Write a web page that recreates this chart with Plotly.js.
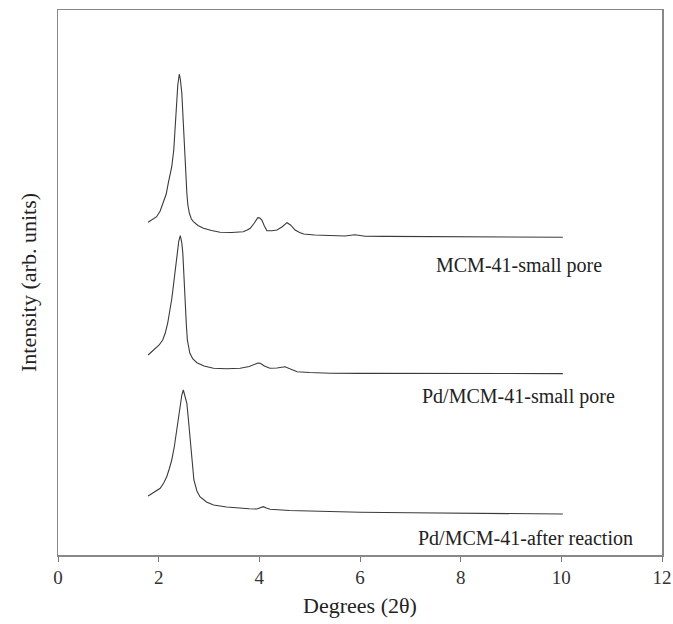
<!DOCTYPE html>
<html>
<head>
<meta charset="utf-8">
<script src="https://cdn.plot.ly/plotly-3.0.1.min.js"></script>
<style>html,body{margin:0;padding:0;background:#fff;}</style>
</head>
<body>
<div id="chart" style="width:673px;height:624px;"></div>
<script>
// Degrees (2θ) and offset intensities (arb. units)
var xSmallPore = [1.79,1.88,1.96,2.03,2.09,2.15,2.19,2.23,2.26,2.30,2.33,2.36,2.38,2.41,2.43,2.46,2.48,2.50,2.53,2.56,2.58,2.61,2.65,2.69,2.78,2.89,3.05,3.22,3.45,3.68,3.76,3.82,3.90,3.97,4.01,4.05,4.10,4.15,4.25,4.35,4.45,4.55,4.62,4.71,4.80,4.88,5.10,5.41,5.70,5.90,6.10,6.50,7.00,7.50,8.00,8.50,9.00,9.50,10.03];
var ySmallPore = [332.7,335.5,338.3,344,351.7,361,371.7,380,388.3,405,428.3,455,470,481,476,461.7,440,411.7,385,361.7,350,341.7,336,333.3,329.5,326.7,324.5,322.7,322.5,323.3,325,326.7,332,337.3,337,335,329,324.3,324.2,325,328,332.3,330,325,322.5,321,320,319.3,319,320.2,318.8,318.6,318.5,318.3,318,318,317.8,317.7,317.7];

var xPdSmallPore = [1.79,1.90,2.01,2.08,2.13,2.18,2.23,2.26,2.29,2.33,2.36,2.40,2.43,2.46,2.48,2.50,2.52,2.55,2.57,2.60,2.62,2.68,2.76,2.90,3.09,3.35,3.62,3.80,3.92,3.97,4.02,4.10,4.21,4.35,4.51,4.62,4.75,5.00,5.41,6.00,7.00,8.00,9.00,10.03];
var yPdSmallPore = [200,205,210,215,221.7,232,245,256,268.3,285,301.7,314,319.3,312,301.7,278,251.7,230,215,207,201.7,196,192.3,189,186.7,186.2,186.7,188.5,191,192,191.7,189,186.7,187,188.3,186,183.3,182.5,181.7,181.6,181.5,181.5,181.4,181.4];

var xAfterReaction = [1.79,1.90,2.03,2.10,2.16,2.21,2.26,2.31,2.36,2.40,2.43,2.46,2.49,2.52,2.56,2.59,2.62,2.66,2.70,2.76,2.82,2.95,3.09,3.35,3.62,3.80,3.95,4.02,4.08,4.14,4.21,4.60,5.00,5.41,6.00,7.00,8.00,9.00,10.03];
var yAfterReaction = [59,62.5,66.7,72,78.3,86,95,108,125,140,151.7,160,165,160,151.7,136,118.3,95,75,64,58.3,53,50,48,46.7,46.3,46,47,48.3,47,45.7,44.5,44,43.3,42.8,42.2,41.7,41.3,41];

var sampleLabels = ["MCM-41-small pore", "Pd/MCM-41-small pore", "Pd/MCM-41-after reaction"];
var labelX = [9.15, 9.15, 9.28];
var labelY = [290, 159, 17];

var xTicks = [0, 2, 4, 6, 8, 10, 12];
var xTitle = "Degrees (2θ)";
var yTitle = "Intensity (arb. units)";

var font = "Liberation Serif, Times New Roman, serif";
var lineStyle = {color: "#3a3a3a", width: 1.1};

var traces = [
  {x: xSmallPore, y: ySmallPore, mode: "lines", line: lineStyle, name: sampleLabels[0], hoverinfo: "x+y"},
  {x: xPdSmallPore, y: yPdSmallPore, mode: "lines", line: lineStyle, name: sampleLabels[1], hoverinfo: "x+y"},
  {x: xAfterReaction, y: yAfterReaction, mode: "lines", line: lineStyle, name: sampleLabels[2], hoverinfo: "x+y"}
];

var annotations = sampleLabels.map(function(t, i) {
  return {x: labelX[i], y: labelY[i], xref: "x", yref: "y", text: t, showarrow: false,
          font: {family: font, size: 20, color: "#222"}};
});

var layout = {
  width: 673, height: 624,
  margin: {l: 58, r: 11, t: 10, b: 69},
  paper_bgcolor: "#fff", plot_bgcolor: "#fff",
  showlegend: false,
  font: {family: font, size: 16, color: "#222"},
  xaxis: {
    range: [0, 12], tickvals: xTicks, ticktext: xTicks.map(String),
    ticks: "outside", ticklen: 5, tickcolor: "#777", tickwidth: 1,
    showline: true, linecolor: "#888", linewidth: 1.5, mirror: true,
    showgrid: false, zeroline: false,
    tickfont: {family: font, size: 19, color: "#333"},
    title: {text: xTitle, font: {family: font, size: 22, color: "#222"}, standoff: 10}
  },
  yaxis: {
    range: [0, 545], showticklabels: false, ticks: "",
    showline: true, linecolor: "#888", linewidth: 1.5, mirror: true,
    showgrid: false, zeroline: false,
    title: {text: yTitle, font: {family: font, size: 22, color: "#222"}, standoff: 14}
  },
  annotations: annotations
};

Plotly.newPlot("chart", traces, layout, {displayModeBar: false, staticPlot: true});
</script>
</body>
</html>
